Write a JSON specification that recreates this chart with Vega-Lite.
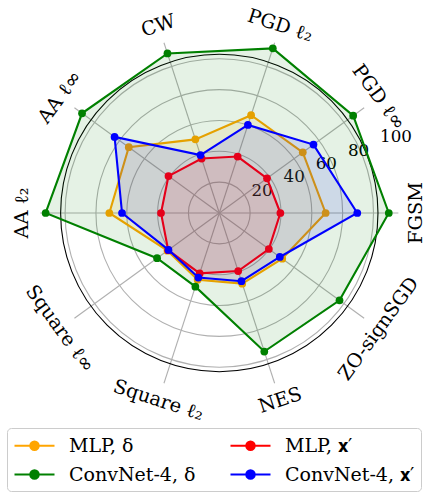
{
  "$schema": "https://vega.github.io/schema/vega-lite/v6.json",
  "width": 426,
  "height": 492,
  "autosize": {"type": "none"},
  "padding": 0,
  "background": "white",
  "config": {"view": {"stroke": null}, "font": "DejaVu Serif"},
  "datasets": {
    "scores": [
      {"attack": "FGSM", "series": "MLP, δ", "value": 61.1},
      {"attack": "PGD ℓ∞", "series": "MLP, δ", "value": 59.3},
      {"attack": "PGD ℓ₂", "series": "MLP, δ", "value": 59.1},
      {"attack": "CW", "series": "MLP, δ", "value": 44.5},
      {"attack": "AA ℓ∞", "series": "MLP, δ", "value": 64.3},
      {"attack": "AA ℓ₂", "series": "MLP, δ", "value": 63.2},
      {"attack": "Square ℓ∞", "series": "MLP, δ", "value": 36.8},
      {"attack": "Square ℓ₂", "series": "MLP, δ", "value": 40.3},
      {"attack": "NES", "series": "MLP, δ", "value": 42.7},
      {"attack": "ZO-signSGD", "series": "MLP, δ", "value": 44.7},
      {"attack": "FGSM", "series": "ConvNet-4, δ", "value": 97.4},
      {"attack": "PGD ℓ∞", "series": "ConvNet-4, δ", "value": 95.1},
      {"attack": "PGD ℓ₂", "series": "ConvNet-4, δ", "value": 99.5},
      {"attack": "CW", "series": "ConvNet-4, δ", "value": 96.4},
      {"attack": "AA ℓ∞", "series": "ConvNet-4, δ", "value": 97.5},
      {"attack": "AA ℓ₂", "series": "ConvNet-4, δ", "value": 99.8},
      {"attack": "Square ℓ∞", "series": "ConvNet-4, δ", "value": 44.2},
      {"attack": "Square ℓ₂", "series": "ConvNet-4, δ", "value": 44.5},
      {"attack": "NES", "series": "ConvNet-4, δ", "value": 83.7},
      {"attack": "ZO-signSGD", "series": "ConvNet-4, δ", "value": 85.4},
      {"attack": "FGSM", "series": "MLP, 𝐱′", "value": 35.1},
      {"attack": "PGD ℓ∞", "series": "MLP, 𝐱′", "value": 33.9},
      {"attack": "PGD ℓ₂", "series": "MLP, 𝐱′", "value": 34.1},
      {"attack": "CW", "series": "MLP, 𝐱′", "value": 32.9},
      {"attack": "AA ℓ∞", "series": "MLP, 𝐱′", "value": 36.1},
      {"attack": "AA ℓ₂", "series": "MLP, 𝐱′", "value": 33.5},
      {"attack": "Square ℓ∞", "series": "MLP, 𝐱′", "value": 36.3},
      {"attack": "Square ℓ₂", "series": "MLP, 𝐱′", "value": 36.5},
      {"attack": "NES", "series": "MLP, 𝐱′", "value": 35.1},
      {"attack": "ZO-signSGD", "series": "MLP, 𝐱′", "value": 35.2},
      {"attack": "FGSM", "series": "ConvNet-4, 𝐱′", "value": 79.3},
      {"attack": "PGD ℓ∞", "series": "ConvNet-4, 𝐱′", "value": 66.9},
      {"attack": "PGD ℓ₂", "series": "ConvNet-4, 𝐱′", "value": 53.2},
      {"attack": "CW", "series": "ConvNet-4, 𝐱′", "value": 35.0},
      {"attack": "AA ℓ∞", "series": "ConvNet-4, 𝐱′", "value": 74.4},
      {"attack": "AA ℓ₂", "series": "ConvNet-4, 𝐱′", "value": 55.9},
      {"attack": "Square ℓ∞", "series": "ConvNet-4, 𝐱′", "value": 36.1},
      {"attack": "Square ℓ₂", "series": "ConvNet-4, 𝐱′", "value": 39.0},
      {"attack": "NES", "series": "ConvNet-4, 𝐱′", "value": 41.2},
      {"attack": "ZO-signSGD", "series": "ConvNet-4, 𝐱′", "value": 43.0}
    ],
    "attacks": [
      {"attack": "FGSM"}, {"attack": "PGD ℓ∞"}, {"attack": "PGD ℓ₂"}, {"attack": "CW"},
      {"attack": "AA ℓ∞"}, {"attack": "AA ℓ₂"}, {"attack": "Square ℓ∞"}, {"attack": "Square ℓ₂"},
      {"attack": "NES"}, {"attack": "ZO-signSGD"}
    ],
    "rings": [{"r": 20}, {"r": 40}, {"r": 60}, {"r": 80}, {"r": 100}],
    "outer": [{"r": 102.9}]
  },
  "layer": [
    {
      "data": {"name": "rings"},
      "transform": [{"calculate": "0", "as": "cx"}, {"calculate": "0", "as": "cy"}],
      "mark": {"type": "point", "shape": "circle", "filled": false, "stroke": "#b0b0b0", "strokeWidth": 1.1, "opacity": 1},
      "encoding": {
        "x": {"field": "cx", "type": "quantitative", "scale": {"domain": [-126.03, 118.79], "nice": false, "zero": false}, "axis": null},
        "y": {"field": "cy", "type": "quantitative", "scale": {"domain": [-160.34, 122.41], "nice": false, "zero": false}, "axis": null},
        "size": {"field": "r", "type": "quantitative", "scale": {"type": "pow", "exponent": 2, "domain": [0, 100], "range": [0, 95115]}, "legend": null}
      }
    },
    {
      "data": {"name": "attacks"},
      "transform": [
        {"calculate": "indexof(['FGSM','PGD ℓ∞','PGD ℓ₂','CW','AA ℓ∞','AA ℓ₂','Square ℓ∞','Square ℓ₂','NES','ZO-signSGD'], datum.attack) * PI / 5", "as": "theta"},
        {"calculate": "0", "as": "cx"},
        {"calculate": "0", "as": "cy"},
        {"calculate": "102.9 * cos(datum.theta)", "as": "ex"},
        {"calculate": "102.9 * sin(datum.theta)", "as": "ey"}
      ],
      "mark": {"type": "rule", "stroke": "#b0b0b0", "strokeWidth": 1.1},
      "encoding": {
        "x": {"field": "cx", "type": "quantitative"},
        "y": {"field": "cy", "type": "quantitative"},
        "x2": {"field": "ex"},
        "y2": {"field": "ey"}
      }
    },
    {
      "data": {"name": "outer"},
      "transform": [{"calculate": "0", "as": "cx"}, {"calculate": "0", "as": "cy"}],
      "mark": {"type": "point", "shape": "circle", "filled": false, "stroke": "black", "strokeWidth": 1.1, "opacity": 1},
      "encoding": {
        "x": {"field": "cx", "type": "quantitative"},
        "y": {"field": "cy", "type": "quantitative"},
        "size": {"field": "r", "type": "quantitative", "legend": null}
      }
    },
    {
      "data": {"name": "rings"},
      "transform": [
        {"calculate": "datum.r * cos(PI / 8)", "as": "tx"},
        {"calculate": "datum.r * sin(PI / 8)", "as": "ty"}
      ],
      "mark": {"type": "text", "align": "left", "baseline": "bottom", "fontSize": 16.7, "font": "DejaVu Serif", "color": "black"},
      "encoding": {
        "x": {"field": "tx", "type": "quantitative"},
        "y": {"field": "ty", "type": "quantitative"},
        "text": {"field": "r", "type": "quantitative"}
      }
    },
    {
      "data": {"name": "attacks"},
      "transform": [
        {"calculate": "indexof(['FGSM','PGD ℓ∞','PGD ℓ₂','CW','AA ℓ∞','AA ℓ₂','Square ℓ∞','Square ℓ₂','NES','ZO-signSGD'], datum.attack)", "as": "idx"},
        {"calculate": "113.2 * cos(datum.idx * PI / 5)", "as": "lx"},
        {"calculate": "113.2 * sin(datum.idx * PI / 5)", "as": "ly"}
      ],
      "encoding": {
        "x": {"field": "lx", "type": "quantitative"},
        "y": {"field": "ly", "type": "quantitative"},
        "text": {"field": "attack", "type": "nominal"}
      },
      "layer": [
        {"transform": [{"filter": "datum.idx === 0 || datum.idx === 5"}], "mark": {"type": "text", "align": "center", "baseline": "middle", "fontSize": 19.4, "font": "DejaVu Serif", "color": "black", "angle": -90}},
        {"transform": [{"filter": "datum.idx === 1 || datum.idx === 6"}], "mark": {"type": "text", "align": "center", "baseline": "middle", "fontSize": 19.4, "font": "DejaVu Serif", "color": "black", "angle": 54}},
        {"transform": [{"filter": "datum.idx === 2 || datum.idx === 7"}], "mark": {"type": "text", "align": "center", "baseline": "middle", "fontSize": 19.4, "font": "DejaVu Serif", "color": "black", "angle": 18}},
        {"transform": [{"filter": "datum.idx === 3 || datum.idx === 8"}], "mark": {"type": "text", "align": "center", "baseline": "middle", "fontSize": 19.4, "font": "DejaVu Serif", "color": "black", "angle": -18}},
        {"transform": [{"filter": "datum.idx === 4 || datum.idx === 9"}], "mark": {"type": "text", "align": "center", "baseline": "middle", "fontSize": 19.4, "font": "DejaVu Serif", "color": "black", "angle": -54}}
      ]
    },
    {
      "data": {"name": "scores"},
      "transform": [
        {"calculate": "indexof(['FGSM','PGD ℓ∞','PGD ℓ₂','CW','AA ℓ∞','AA ℓ₂','Square ℓ∞','Square ℓ₂','NES','ZO-signSGD'], datum.attack)", "as": "idx"},
        {"calculate": "datum.value * cos(datum.idx * PI / 5)", "as": "px"},
        {"calculate": "datum.value * sin(datum.idx * PI / 5)", "as": "py"}
      ],
      "encoding": {
        "x": {"field": "px", "type": "quantitative"},
        "y": {"field": "py", "type": "quantitative"},
        "color": {
          "field": "series", "type": "nominal",
          "scale": {
            "domain": ["MLP, δ", "ConvNet-4, δ", "MLP, 𝐱′", "ConvNet-4, 𝐱′"],
            "range": ["#FFA500", "#008000", "#FF0000", "#0000FF"]
          },
          "legend": {
            "title": null, "orient": "none", "legendX": 7, "legendY": 428,
            "columns": 2, "columnPadding": 30, "rowPadding": 7,
            "symbolType": "M-1,0L3,0M0.58,0A0.42,0.42,0,1,0,1.42,0A0.42,0.42,0,1,0,0.58,0Z",
            "symbolSize": 400, "symbolStrokeWidth": 2.1,
            "labelFont": "DejaVu Serif", "labelFontSize": 19, "labelColor": "black",
            "labelOffset": 33, "labelLimit": 300,
            "padding": 6, "fillColor": "white", "strokeColor": "#cccccc", "cornerRadius": 4
          }
        }
      },
      "layer": [
        {"transform": [{"filter": "datum.series === 'MLP, δ'"}], "mark": {"type": "line", "interpolate": "linear-closed", "strokeWidth": 2.1, "fill": "#FFA500", "fillOpacity": 0.1}, "encoding": {"order": {"field": "idx", "type": "quantitative"}}},
        {"transform": [{"filter": "datum.series === 'MLP, δ'"}], "mark": {"type": "point", "filled": true, "size": 60, "opacity": 1}},
        {"transform": [{"filter": "datum.series === 'ConvNet-4, δ'"}], "mark": {"type": "line", "interpolate": "linear-closed", "strokeWidth": 2.1, "fill": "#008000", "fillOpacity": 0.1}, "encoding": {"order": {"field": "idx", "type": "quantitative"}}},
        {"transform": [{"filter": "datum.series === 'ConvNet-4, δ'"}], "mark": {"type": "point", "filled": true, "size": 60, "opacity": 1}},
        {"transform": [{"filter": "datum.series === 'MLP, 𝐱′'"}], "mark": {"type": "line", "interpolate": "linear-closed", "strokeWidth": 2.1, "fill": "#FF0000", "fillOpacity": 0.1}, "encoding": {"order": {"field": "idx", "type": "quantitative"}}},
        {"transform": [{"filter": "datum.series === 'MLP, 𝐱′'"}], "mark": {"type": "point", "filled": true, "size": 60, "opacity": 1}},
        {"transform": [{"filter": "datum.series === 'ConvNet-4, 𝐱′'"}], "mark": {"type": "line", "interpolate": "linear-closed", "strokeWidth": 2.1, "fill": "#0000FF", "fillOpacity": 0.1}, "encoding": {"order": {"field": "idx", "type": "quantitative"}}},
        {"transform": [{"filter": "datum.series === 'ConvNet-4, 𝐱′'"}], "mark": {"type": "point", "filled": true, "size": 60, "opacity": 1}}
      ]
    }
  ]
}
